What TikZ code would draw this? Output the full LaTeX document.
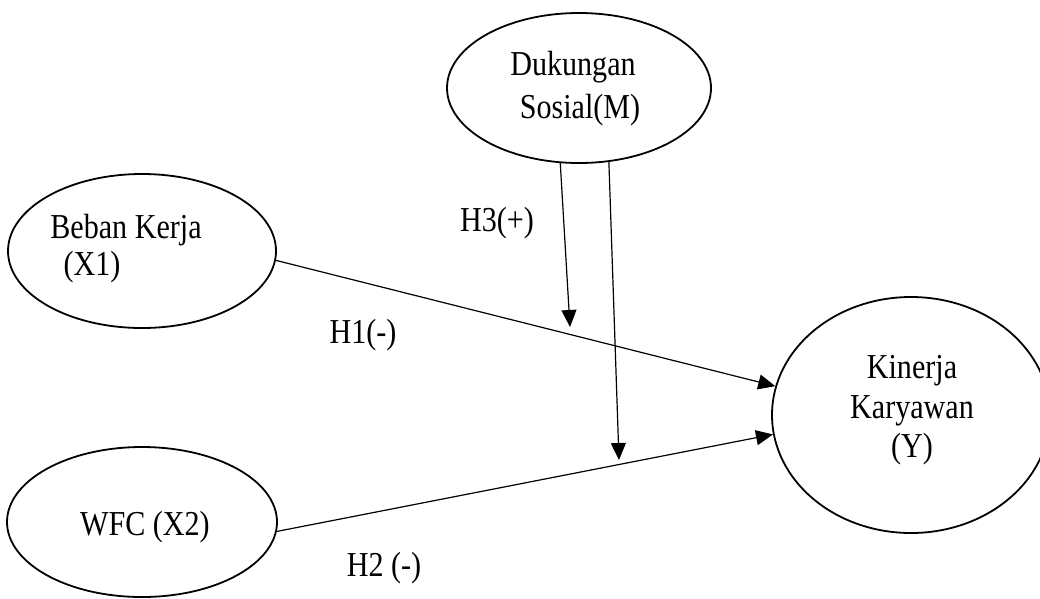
\documentclass[tikz,border=0pt]{standalone}
\usepackage{fontspec}
\setmainfont{Liberation Serif}[FakeStretch=0.86]
\usetikzlibrary{shapes.geometric,arrows.meta}
\begin{document}
\begin{tikzpicture}[x=1pt,y=-1pt,
  var/.style={draw=black,line width=1.8pt,ellipse,inner sep=0pt},
  lbl/.style={anchor=base,inner sep=0pt,font=\fontsize{35pt}{42pt}\selectfont},
  conn/.style={draw=black,line width=1.2pt,-{Triangle[length=17pt,width=15pt]}}]
\useasboundingbox (0,0) rectangle (1040,598);
% ellipses
\node[var,minimum width=264pt,minimum height=150pt] (d) at (579,88) {};
\node[var,minimum width=268pt,minimum height=154pt] (b) at (142,251) {};
\node[var,minimum width=270pt,minimum height=150pt] (w) at (142,522) {};
\node[var,minimum width=278pt,minimum height=236pt] (k) at (911,415) {};
% texts
\node[lbl] (t1) at (573,75) {Dukungan};
\node[lbl] (t2) at (580,118) {Sosial(M)};
\node[lbl] (t3) at (126,238) {Beban Kerja};
\node[lbl] (t4) at (92,275) {(X1)};
\node[lbl] (t5) at (145,535) {WFC (X2)};
\node[lbl] (t6) at (912,378) {Kinerja};
\node[lbl] (t7) at (912,418) {Karyawan};
\node[lbl] (t8) at (912,457) {(Y)};
\node[lbl] (h3) at (497,231) {H3(+)};
\node[lbl] (h1) at (363,343) {H1(-)};
\node[lbl] (h2) at (384,576) {H2 (-)};
% connectors
\coordinate (m1) at (570,327);
\coordinate (m2) at (619,460);
\draw[conn] (b.-4) -- (k.168);
\draw[conn] (w.-4) -- (k.188);
\draw[conn] (d.256.5) -- (m1);
\draw[conn] (d.292.5) -- (m2);
\end{tikzpicture}
\end{document}
